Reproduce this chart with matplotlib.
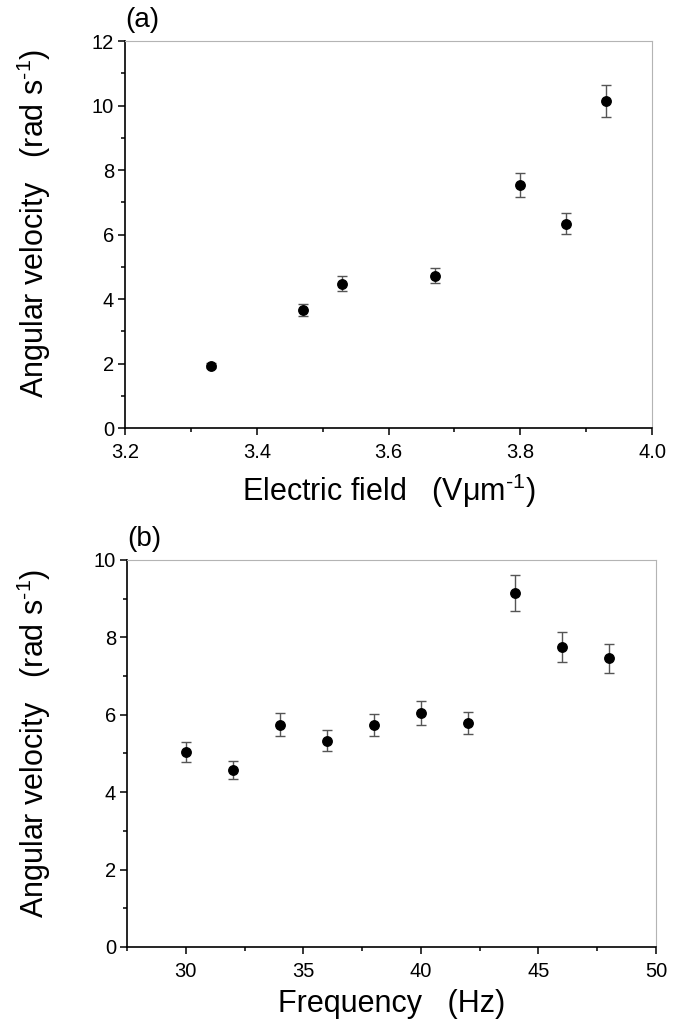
import matplotlib
matplotlib.use("Agg")
import matplotlib.pyplot as plt
from matplotlib.ticker import MultipleLocator

plt.rcParams['font.family'] = ['Liberation Sans', 'DejaVu Sans']
plt.rcParams['mathtext.fontset'] = 'custom'
plt.rcParams['mathtext.rm'] = 'Liberation Sans'
plt.rcParams['mathtext.it'] = 'Liberation Sans'

# (a) angular velocity vs electric field
campo = [3.33, 3.47, 3.53, 3.67, 3.80, 3.87, 3.93]
vel_a = [1.93, 3.66, 4.48, 4.72, 7.53, 6.34, 10.14]
erro_a = [0.08, 0.18, 0.23, 0.23, 0.38, 0.32, 0.50]

# (b) angular velocity vs frequency
freq = [30, 32, 34, 36, 38, 40, 42, 44, 46, 48]
vel_b = [5.04, 4.57, 5.74, 5.33, 5.74, 6.05, 5.79, 9.14, 7.75, 7.46]
erro_b = [0.25, 0.23, 0.30, 0.27, 0.28, 0.31, 0.29, 0.46, 0.39, 0.37]

fig = plt.figure(figsize=(6.93, 10.23), dpi=100)
ax1 = fig.add_axes([0.1804, 0.5816, 0.7605, 0.3783])
ax2 = fig.add_axes([0.1833, 0.0743, 0.7634, 0.3783])


def estilo(ax):
    ax.spines['top'].set_color('#b4b4b4')
    ax.spines['right'].set_color('#b4b4b4')
    for s in ['left', 'bottom']:
        ax.spines[s].set_color('black')
        ax.spines[s].set_linewidth(1.2)
    ax.tick_params(which='both', direction='out', top=False, right=False,
                   labelsize=14.5, width=1.1, color='black')
    ax.tick_params(which='major', length=4.8)
    ax.tick_params(which='minor', length=2.9)
    ax.tick_params(axis='x', which='major', pad=6)
    ax.tick_params(axis='y', which='major', pad=3)


ax1.errorbar(campo, vel_a, yerr=erro_a, fmt='o', color='black', ms=6.8,
             ecolor='#555555', elinewidth=1, capsize=3.6, capthick=1)
ax1.set_xlim(3.2, 4.0)
ax1.set_ylim(0, 12)
ax1.xaxis.set_major_locator(MultipleLocator(0.2))
ax1.xaxis.set_minor_locator(MultipleLocator(0.1))
ax1.yaxis.set_major_locator(MultipleLocator(2))
ax1.yaxis.set_minor_locator(MultipleLocator(1))
ax1.xaxis.set_major_formatter(plt.FormatStrFormatter('%.1f'))
estilo(ax1)
ax1.set_xlabel('Electric field   (V\u03bcm$^{\\text{-1}}$)', fontsize=22, labelpad=7)
ax1.set_ylabel('Angular velocity   (rad s$^{\\text{-1}}$)', fontsize=22)
ax1.yaxis.set_label_coords(-0.136, 0.53)
ax1.text(0.0, 1.037, '(a)', transform=ax1.transAxes, fontsize=20,
         ha='left', va='baseline')

ax2.errorbar(freq, vel_b, yerr=erro_b, fmt='o', color='black', ms=6.8,
             ecolor='#555555', elinewidth=1, capsize=3.6, capthick=1)
ax2.set_xlim(27.5, 50)
ax2.set_ylim(0, 10)
ax2.xaxis.set_major_locator(MultipleLocator(5))
ax2.xaxis.set_minor_locator(MultipleLocator(2.5))
ax2.yaxis.set_major_locator(MultipleLocator(2))
ax2.yaxis.set_minor_locator(MultipleLocator(1))
estilo(ax2)
ax2.set_xlabel('Frequency   (Hz)', fontsize=22, labelpad=6)
ax2.set_ylabel('Angular velocity   (rad s$^{\\text{-1}}$)', fontsize=22)
ax2.yaxis.set_label_coords(-0.139, 0.526)
ax2.text(0.0, 1.037, '(b)', transform=ax2.transAxes, fontsize=20,
         ha='left', va='baseline')

fig.savefig('out.png', dpi=100)
